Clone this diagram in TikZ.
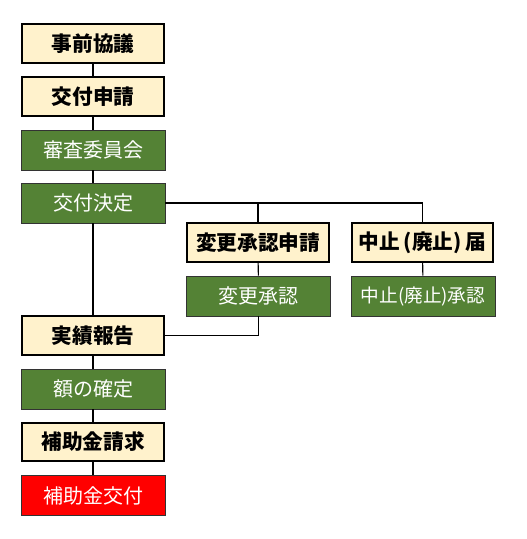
\documentclass[tikz,border=0pt]{standalone}
\usepackage{fontspec}
\newfontfamily\jp{Noto Sans CJK JP}
\usepackage{tikz}
\usetikzlibrary{arrows.meta}
\definecolor{creamfill}{HTML}{FFF2CC}
\definecolor{greenfill}{HTML}{548235}

\begin{document}
\begin{tikzpicture}
[x=0.75pt,y=-0.75pt,
apply/.style={rectangle,draw=black,line width=1.6pt,fill=creamfill,minimum width=106pt,minimum height=29pt,font=\jp\bfseries\fontsize{15.5}{18}\selectfont},
office/.style={rectangle,draw=black!80,line width=0.6pt,fill=greenfill,text=white,minimum width=108pt,minimum height=30pt,font=\jp\fontsize{15}{18}\selectfont},
pay/.style={office,fill=red},
link/.style={line width=0.8pt}]
\useasboundingbox (0,0) rectangle (526,539);
\node[apply] (kyogi) at (93,43.5) {事前協議};
\node[apply] (shinsei) at (93,96.5) {交付申請};
\node[office] (shinsa) at (93,150) {審査委員会};
\node[office] (kettei) at (93,203) {交付決定};
\node[apply] (henkoShinsei) at (258,242.5) {変更承認申請};
\node[apply] (chushiTodoke) at (422.5,242.5) {中止\hspace{0.2em}(廃止)\hspace{0.2em}届};
\node[office] (henko) at (258.5,296) {変更承認};
\node[office,font=\jp\fontsize{14}{16}\selectfont] (chushi) at (423,296) {中止(廃止)承認};
\node[apply] (jisseki) at (93,335.5) {実績報告};
\node[office] (kakutei) at (93,389) {額の確定};
\node[apply] (seikyu) at (93,442) {補助金請求};
\node[pay] (kofu) at (93,495.5) {補助金交付};
\path[link] (kyogi) edge (shinsei)
(shinsei) edge (shinsa)
(shinsa) edge (kettei)
(kettei) edge (jisseki)
(jisseki) edge (kakutei)
(kakutei) edge (seikyu)
(seikyu) edge (kofu)
(henkoShinsei) edge (henko)
(chushiTodoke) edge (chushi);
\draw[link] (kettei.east) -- (chushiTodoke.north |- kettei.east) -- (chushiTodoke.north);
\draw[link] (henkoShinsei.north |- kettei.east) -- (henkoShinsei.north);
\draw[link] (henko.south) |- (jisseki.east);
\end{tikzpicture}
\end{document}
